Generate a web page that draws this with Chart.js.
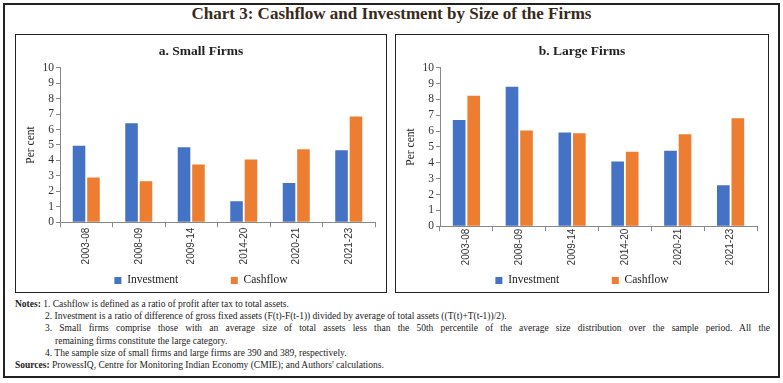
<!DOCTYPE html>
<html><head><meta charset="utf-8">
<script src="https://cdn.jsdelivr.net/npm/chart.js@4/dist/chart.umd.min.js"></script>
<style>
html,body{margin:0;padding:0;background:#fff;}
body{width:783px;height:383px;position:relative;overflow:hidden;font-family:"Liberation Serif",serif;color:#222;}
#outer{position:absolute;left:3px;top:3px;width:777px;height:375px;border:2px solid #222;box-sizing:border-box;}
#title{position:absolute;left:0;top:4px;width:783px;text-align:center;font-weight:bold;font-size:17px;color:#3a2a1a;}
.panel{position:absolute;top:34px;height:259px;border:1px solid #222;box-sizing:border-box;}
#pa{left:15px;width:372px;}
#pb{left:395px;width:374px;}
.cw{position:absolute;left:0;top:0;width:100%;height:100%;}
#notes{position:absolute;left:15px;top:298px;width:760px;font-size:9.5px;line-height:12.2px;color:#222;}
.ln{position:relative;white-space:nowrap;}
.ind{padding-left:30px;}
.just{text-align:justify;text-align-last:justify;white-space:normal;width:725px;}
</style>
</head><body>
<div id="outer"></div>
<div id="title">Chart 3: Cashflow and Investment by Size of the Firms</div>
<div class="panel" id="pa"><div class="cw"><canvas id="ca"></canvas></div></div>
<div class="panel" id="pb"><div class="cw"><canvas id="cb"></canvas></div></div>
<div id="notes">
<div class="ln"><b>Notes:</b> 1. Cashflow is defined as a ratio of profit after tax to total assets.</div>
<div class="ln ind">2. Investment is a ratio of difference of gross fixed assets (F(t)-F(t-1)) divided by average of total assets ((T(t)+T(t-1))/2).</div>
<div class="ln ind just">3. Small firms comprise those with an average size of total assets less than the 50th percentile of the average size distribution over the sample period. All the</div>
<div class="ln" style="padding-left:40px">remaining firms constitute the large category.</div>
<div class="ln ind">4. The sample size of small firms and large firms are 390 and 389, respectively.</div>
<div class="ln"><b>Sources:</b> ProwessIQ, Centre for Monitoring Indian Economy (CMIE); and Authors' calculations.</div>
</div>
<script>
const categories = ["2003-08","2008-09","2009-14","2014-20","2020-21","2021-23"];
const smallInvestment = [4.95, 6.41, 4.86, 1.36, 2.54, 4.66];
const smallCashflow   = [2.90, 2.65, 3.74, 4.06, 4.73, 6.84];
const largeInvestment = [6.71, 8.81, 5.91, 4.08, 4.77, 2.59];
const largeCashflow   = [8.24, 6.04, 5.87, 4.70, 5.80, 6.81];
const yTicks = [0,1,2,3,4,5,6,7,8,9,10];

const BLUE = '#4472C4', ORANGE = '#ED7D31';
const SERIF = '"Liberation Serif", serif';
const SANS = '"Liberation Sans", Arial, sans-serif';

function makeChart(id, title, inv, cash, xHeight, xPad, rightGap) {
  return new Chart(document.getElementById(id), {
    type: 'bar',
    data: {
      labels: categories,
      datasets: [
        {label: 'Investment', data: inv, backgroundColor: BLUE, borderWidth: 0},
        {label: 'Cashflow', data: cash, backgroundColor: ORANGE, borderWidth: 0}
      ]
    },
    options: {
      responsive: true,
      maintainAspectRatio: false,
      animation: false,
      devicePixelRatio: 1,
      categoryPercentage: 0.55,
      barPercentage: 0.87,
      layout: {padding: {left: 0, right: 0, top: 0, bottom: -4.2}},
      plugins: {
        title: {display: true, text: title, color: '#222',
          font: {family: SERIF, size: 13.5, weight: 'bold'},
          padding: {top: 8.9, bottom: 7.7}},
        legend: {display: true, position: 'bottom',
          labels: {boxWidth: 7, boxHeight: 7, padding: 10, color: '#222',
            font: {family: SERIF, size: 11.5},
            generateLabels(chart) {
              const items = Chart.defaults.plugins.legend.labels.generateLabels(chart);
              items[0].text = items[0].text + '\u2003\u2003\u2003\u2002\u2009';
              items.forEach(it => { it.lineWidth = 0; it.strokeStyle = 'transparent'; });
              return items;
            }}},
        tooltip: {enabled: false}
      },
      scales: {
        x: {
          grid: {display: true, drawOnChartArea: false, drawTicks: true, tickLength: 5, color: '#888', offset: true},
          border: {display: true, color: '#888'},
          ticks: {minRotation: 90, maxRotation: 90, color: '#333', padding: xPad, autoSkip: false,
            font: {family: SANS, size: 10}},
          afterFit(s) { s.height = xHeight; }
        },
        y: {
          min: 0, max: 10,
          afterBuildTicks(s) { s.ticks = yTicks.map(v => ({value: v})); },
          grid: {display: true, drawOnChartArea: false, drawTicks: true, tickLength: 4, color: '#888'},
          border: {display: true, color: '#888'},
          ticks: {color: '#333', padding: 2, autoSkip: false, font: {family: SERIF, size: 11.5}},
          title: {display: true, text: 'Per cent', color: '#222', font: {family: SERIF, size: 11.5}, padding: {top: 7.8, bottom: 0}},
          afterFit(s) { s.width = 44; }
        },
        gap: {
          type: 'linear', position: 'right', display: true, min: 0, max: 10,
          grid: {display: false, drawTicks: false}, border: {display: false},
          ticks: {display: false},
          afterFit(s) { s.width = rightGap; }
        }
      }
    }
  });
}
makeChart('ca', 'a. Small Firms', smallInvestment, smallCashflow, 42.5, 0.5, 11);
makeChart('cb', 'b. Large Firms', largeInvestment, largeCashflow, 38.5, -2.5, 11);
</script>
</body></html>
